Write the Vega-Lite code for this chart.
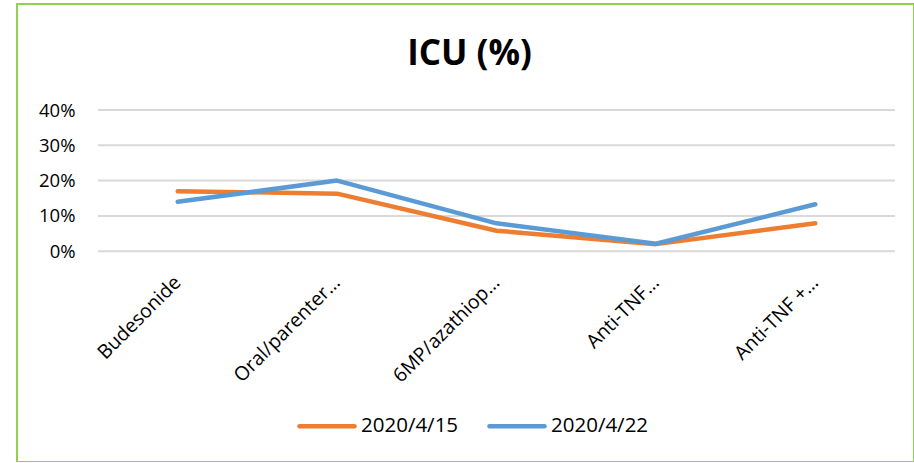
{
  "$schema": "https://vega.github.io/schema/vega-lite/v6.json",
  "autosize": {"type": "none"},
  "padding": {"left": 17, "top": 4, "right": 0, "bottom": 0},
  "width": 897,
  "height": 458,
  "background": "white",
  "title": {
    "text": "ICU (%)",
    "font": "Open Sans",
    "fontSize": 35,
    "fontWeight": "bold",
    "color": "#000000",
    "anchor": "middle",
    "offset": -68,
    "dx": 4
  },
  "datasets": {
    "icu": [
      {"category": "Budesonide", "series": "2020/4/15", "value": 0.170},
      {"category": "Oral/parenter…", "series": "2020/4/15", "value": 0.163},
      {"category": "6MP/azathiop…", "series": "2020/4/15", "value": 0.058},
      {"category": "Anti-TNF…", "series": "2020/4/15", "value": 0.020},
      {"category": "Anti-TNF +…", "series": "2020/4/15", "value": 0.079},
      {"category": "Budesonide", "series": "2020/4/22", "value": 0.140},
      {"category": "Oral/parenter…", "series": "2020/4/22", "value": 0.200},
      {"category": "6MP/azathiop…", "series": "2020/4/22", "value": 0.079},
      {"category": "Anti-TNF…", "series": "2020/4/22", "value": 0.021},
      {"category": "Anti-TNF +…", "series": "2020/4/22", "value": 0.133}
    ],
    "grid": [
      {"tick": 0}, {"tick": 0.1}, {"tick": 0.2}, {"tick": 0.3}, {"tick": 0.4}
    ]
  },
  "layer": [
    {
      "data": {"name": "grid"},
      "mark": {"type": "rule", "color": "#D9D9D9", "strokeWidth": 2},
      "encoding": {
        "y": {"field": "tick", "type": "quantitative"},
        "x": {"datum": "Budesonide", "type": "nominal", "bandPosition": 0},
        "x2": {"datum": "Anti-TNF +…", "bandPosition": 1}
      }
    },
    {
      "data": {"name": "icu"},
      "mark": {"type": "line", "strokeWidth": 4.5, "strokeCap": "round", "strokeJoin": "round"},
      "encoding": {
        "x": {
          "field": "category",
          "type": "nominal",
          "bandPosition": 0.5,
          "scale": {
            "type": "band",
            "domain": ["Budesonide", "Oral/parenter…", "6MP/azathiop…", "Anti-TNF…", "Anti-TNF +…"],
            "paddingInner": 0,
            "paddingOuter": 0.3137,
            "align": 0.81
          },
          "axis": {
            "title": null,
            "orient": "bottom",
            "offset": -186,
            "labelAngle": -45,
            "labelFont": "Open Sans",
            "labelFontSize": 19.5,
            "labelColor": "#000000",
            "labelPadding": 3,
            "ticks": false,
            "tickSize": 0,
            "domain": false,
            "grid": false,
            "labelOverlap": false,
            "labelBound": false,
            "labelFlush": false
          }
        },
        "y": {
          "field": "value",
          "type": "quantitative",
          "scale": {"domain": [-0.5972, 0.7003], "nice": false, "zero": false},
          "axis": {
            "title": null,
            "values": [0, 0.1, 0.2, 0.3, 0.4],
            "format": ".0%",
            "offset": -81,
            "labelFont": "Open Sans",
            "labelFontSize": 18.5,
            "labelColor": "#000000",
            "labelPadding": 23,
            "ticks": false,
            "tickSize": 0,
            "domain": false,
            "grid": false
          }
        },
        "color": {
          "field": "series",
          "type": "nominal",
          "scale": {"domain": ["2020/4/15", "2020/4/22"], "range": ["#ED7D31", "#5B9BD5"]},
          "legend": {
            "title": null,
            "orient": "none",
            "legendX": 280,
            "legendY": 392,
            "direction": "horizontal",
            "symbolType": "stroke",
            "symbolSize": 3025,
            "symbolStrokeWidth": 4.5,
            "labelFont": "Open Sans",
            "labelFontSize": 20.5,
            "labelColor": "#000000",
            "labelOffset": 4,
            "columnPadding": 21,
            "encode": {"symbols": {"update": {"strokeCap": {"value": "round"}}}}
          }
        }
      }
    }
  ],
  "config": {
    "view": {"stroke": "#92D050", "strokeWidth": 2}
  }
}
